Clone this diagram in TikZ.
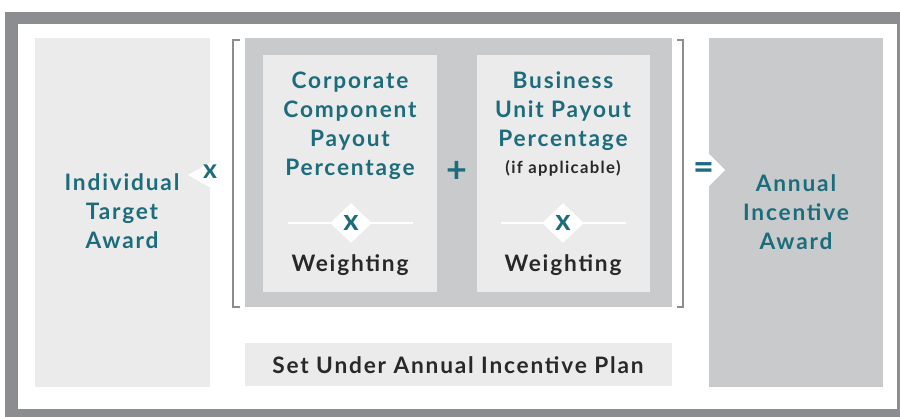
\documentclass[tikz,border=0pt]{standalone}
\usepackage{fontspec}
\setmainfont{Lato}
\newfontfamily\widelato[LetterSpace=8]{Lato}
\usetikzlibrary{shapes.geometric}

\definecolor{tealtxt}{RGB}{28,108,124}
\definecolor{framegray}{RGB}{140,141,145}
\definecolor{lightbox}{RGB}{235,235,235}
\definecolor{darkbox}{RGB}{201,202,204}
\definecolor{darktxt}{RGB}{40,40,40}

\tikzset{every picture/.style={line width=0.75pt}}
\tikzset{
  tealtext/.style={inner sep=0.75pt, align=center, text=tealtxt,
    font=\widelato\fontsize{17}{21.75}\selectfont\bfseries},
  darktext/.style={inner sep=0.75pt, align=center, text=darktxt,
    font=\widelato\fontsize{17}{21.75}\selectfont\bfseries},
  smalltext/.style={inner sep=0.75pt, align=center, text=darktxt,
    font=\widelato\fontsize{12.5}{14}\selectfont\bfseries},
  opsign/.style={inner sep=0pt, text=tealtxt,
    font=\fontsize{27}{27}\selectfont\bfseries},
  xdiamond/.style={diamond, aspect=1, fill=white, inner sep=0pt,
    minimum width=31.5pt, minimum height=30pt, text=tealtxt,
    font=\fontsize{22}{22}\selectfont\bfseries},
  bracketline/.style={draw=framegray, line width=1.5pt}
}

\begin{document}
\begin{tikzpicture}[x=0.75pt,y=0.75pt,yscale=-1,xscale=1]
\useasboundingbox (0,0) rectangle (900,417);

%Shape: Frame
\fill [framegray] (5,12) rectangle (905,425);
\fill [white] (18,24) rectangle (897,409);

%Shape: Rectangle (individual)
\fill [lightbox] (35,38) rectangle (210,387);
\fill [white] (211,162) -- (188,175) -- (211,188) -- cycle;
%Shape: Rectangle (annual)
\fill [darkbox] (709,38) rectangle (883,387);
\fill [white] (708,153) -- (725,170) -- (708,187) -- cycle;

%Shape: Rectangle (plan group)
\fill [darkbox] (245,38) rectangle (672,307);
\fill [lightbox] (263,55) rectangle (437,292);
\fill [lightbox] (477,55) rectangle (650,292);
%Shape: Rectangle (set under)
\fill [lightbox] (245,343) rectangle (672,386);

%Brackets
\draw [bracketline] (240,40) -- (233,40) -- (233,307) -- (240,307);
\draw [bracketline] (677,40) -- (683,40) -- (683,307) -- (677,307);

%Weighting lines
\draw [white, line width=1pt] (288,223) -- (413,223);
\draw [white, line width=1pt] (501,223) -- (626,223);

% Text Node
\node [tealtext] (indiv) at (122,211) {Individual\\Target\\Award};
% Text Node
\node [opsign, font=\fontsize{20}{20}\selectfont\bfseries] (times) at (210,172) {x};
% Text Node
\node [tealtext] (corp) at (350,125.5) {Corporate\\Component\\Payout\\Percentage};
% Text Node
\node [xdiamond] (corpx) at (351,223) {x};
% Text Node
\node [darktext] (corpw) at (350,265) {Weighting};
% Text Node
\node [opsign] (plus) at (457,172) {+};
% Text Node
\node [tealtext] (bu) at (563,111) {Business\\Unit Payout\\Percentage};
% Text Node
\node [smalltext] (ifapp) at (563,168) {(if applicable)};
% Text Node
\node [xdiamond] (bux) at (563,223) {x};
% Text Node
\node [darktext] (buw) at (563,265) {Weighting};
% Text Node
\node [opsign] (equals) at (704,171) {=};
% Text Node
\node [tealtext] (annual) at (796,212) {Annual\\Incentive\\Award};
% Text Node
\node [darktext] (plan) at (458,365) {Set Under Annual Incentive Plan};

\end{tikzpicture}
\end{document}
